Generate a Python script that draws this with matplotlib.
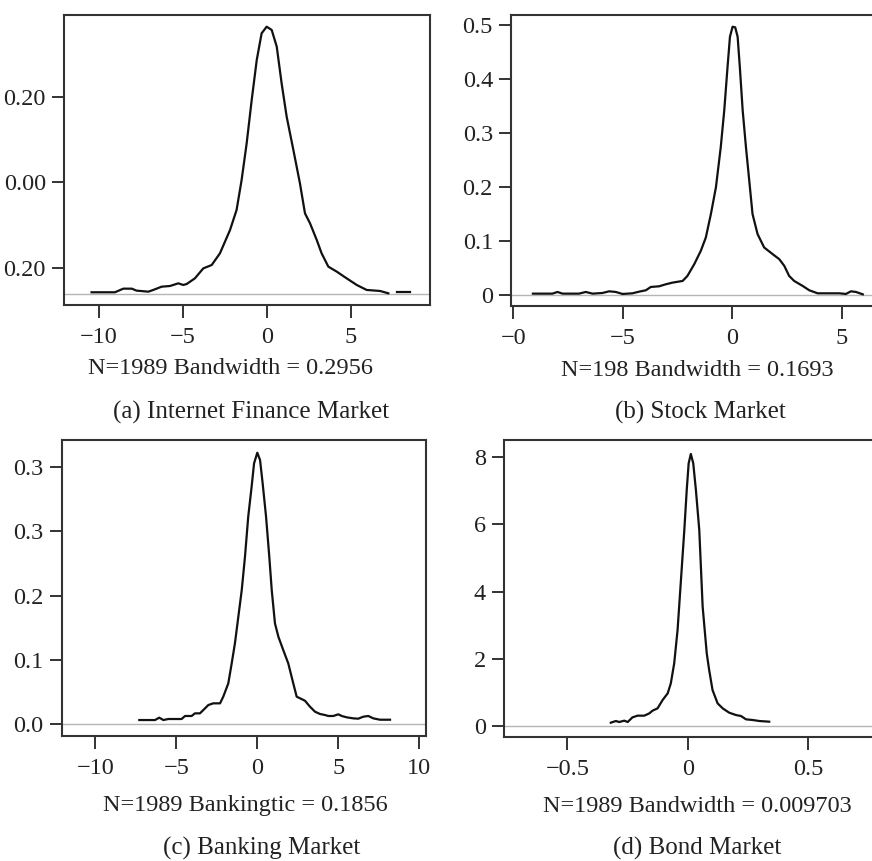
import matplotlib
matplotlib.use("Agg")
import matplotlib.pyplot as plt
import numpy as np

plt.rcParams['font.family'] = ['Liberation Serif', 'DejaVu Serif']

W, H = 872, 861

# (a) Internet Finance Market
a_x = [-10.44, -9.05, -8.55, -8.05, -7.76, -7.06, -6.77, -6.27, -5.77, -5.28,
       -4.98, -4.78, -4.29, -3.79, -3.29, -2.80, -2.20, -1.81, -1.51, -1.21,
       -0.91, -0.61, -0.32, -0.02, 0.28, 0.58, 0.87, 1.17, 1.57, 1.96,
       2.26, 2.56, 2.96, 3.25, 3.65, 4.15, 4.74, 5.34, 5.93, 6.73, 7.22]
a_y = [0.002, 0.002, 0.0062, 0.0062, 0.0039, 0.0027, 0.0047, 0.0085, 0.0093, 0.0124,
       0.0105, 0.0116, 0.0182, 0.0298, 0.0337, 0.0473, 0.0744, 0.0977, 0.1326, 0.1752,
       0.2256, 0.2721, 0.3031, 0.3108, 0.3070, 0.2876, 0.2450, 0.2062, 0.1674, 0.1287,
       0.0938, 0.0822, 0.0628, 0.0473, 0.0318, 0.0260, 0.0182, 0.0105, 0.0047, 0.0035, 0.0008]
a_tail_x = [7.72, 8.51]
a_tail_y = [0.002, 0.002]
a_yticks = [0.030, 0.130, 0.229]
a_ylabels = ['0.20', '0.00', '0.20']
a_xticks = [-10, -5, 0, 5]
a_xlabels = ['\u221210', '\u22125', '0', '5']

# (b) Stock Market
b_x = [-9.10, -8.21, -7.98, -7.75, -7.00, -6.69, -6.38, -5.93, -5.62, -5.32,
       -5.01, -4.56, -4.25, -3.95, -3.72, -3.34, -3.04, -2.73, -2.27, -2.05,
       -1.74, -1.44, -1.21, -0.98, -0.75, -0.53, -0.37, -0.22, -0.11, 0.01,
       0.13, 0.24, 0.34, 0.47, 0.62, 0.80, 0.92, 1.15, 1.45, 1.84,
       2.14, 2.37, 2.59, 2.82, 3.21, 3.51, 3.89, 4.35, 4.88, 5.18,
       5.41, 5.64, 5.95]
b_y = [0.0025, 0.0025, 0.0056, 0.0025, 0.0025, 0.0056, 0.0025, 0.0037, 0.0068, 0.0056,
       0.0019, 0.0031, 0.0062, 0.0087, 0.0149, 0.0161, 0.0198, 0.0229, 0.0260, 0.0353,
       0.0570, 0.0818, 0.1066, 0.1499, 0.1995, 0.2738, 0.3420, 0.4225, 0.4783, 0.4969,
       0.4957, 0.4783, 0.4225, 0.3420, 0.2738, 0.1995, 0.1499, 0.1128, 0.0880, 0.0756,
       0.0663, 0.0539, 0.0353, 0.0260, 0.0167, 0.0087, 0.0031, 0.0031, 0.0031, 0.0019,
       0.0068, 0.0056, 0.0012]
b_yticks = [0, 0.1, 0.2, 0.3, 0.4, 0.5]
b_ylabels = ['0', '0.1', '0.2', '0.3', '0.4', '0.5']
b_xticks = [-10, -5, 0, 5]
b_xlabels = ['\u22120', '\u22125', '0', '5']

# (c) Banking Market
c_x = [-7.28, -6.31, -6.05, -5.80, -5.49, -4.67, -4.46, -4.05, -3.85, -3.54,
       -3.33, -3.02, -2.72, -2.30, -2.10, -1.79, -1.58, -1.38, -1.17, -0.96,
       -0.76, -0.56, -0.35, -0.20, 0.00, 0.17, 0.33, 0.54, 0.74, 0.89,
       1.09, 1.30, 1.60, 1.91, 2.22, 2.43, 2.64, 2.94, 3.25, 3.56,
       3.87, 4.18, 4.38, 4.69, 5.00, 5.21, 5.52, 5.93, 6.23, 6.54,
       6.85, 7.16, 7.57, 8.19]
c_y = [0.0062, 0.0062, 0.0099, 0.0062, 0.0078, 0.0078, 0.0125, 0.0125, 0.0166, 0.0166,
       0.0218, 0.0296, 0.0322, 0.0322, 0.0426, 0.0633, 0.0945, 0.1257, 0.1672, 0.2087,
       0.2606, 0.3230, 0.3697, 0.4060, 0.4226, 0.4112, 0.3749, 0.3230, 0.2606, 0.2087,
       0.1568, 0.1360, 0.1153, 0.0945, 0.0633, 0.0426, 0.0400, 0.0363, 0.0270, 0.0192,
       0.0156, 0.0140, 0.0125, 0.0125, 0.0151, 0.0125, 0.0104, 0.0088, 0.0083, 0.0114,
       0.0125, 0.0088, 0.0067, 0.0067]
c_yticks = [0.0, 0.1, 0.2, 0.3, 0.4]
c_ylabels = ['0.0', '0.1', '0.2', '0.3', '0.3']
c_xticks = [-10, -5, 0, 5, 10]
c_xlabels = ['\u221210', '\u22125', '0', '5', '10']

# (d) Bond Market
d_x = [-0.320, -0.299, -0.285, -0.264, -0.250, -0.230, -0.209, -0.181, -0.160, -0.147,
       -0.126, -0.105, -0.084, -0.071, -0.057, -0.043, -0.029, -0.015, -0.005, 0.003,
       0.012, 0.022, 0.033, 0.047, 0.061, 0.078, 0.088, 0.102, 0.123, 0.144,
       0.171, 0.199, 0.220, 0.241, 0.268, 0.296, 0.337]
d_y = [0.099, 0.149, 0.119, 0.159, 0.119, 0.258, 0.308, 0.308, 0.377, 0.456,
       0.526, 0.774, 0.972, 1.270, 1.865, 2.857, 4.345, 5.833, 7.024, 7.817,
       8.095, 7.817, 7.024, 5.833, 3.552, 2.163, 1.667, 1.071, 0.675, 0.526,
       0.397, 0.327, 0.298, 0.198, 0.179, 0.149, 0.129]
d_yticks = [0, 2, 4, 6, 8]
d_ylabels = ['0', '2', '4', '6', '8']
d_xticks = [-0.5, 0, 0.5]
d_xlabels = ['\u22120.5', '0', '0.5']

fig = plt.figure(figsize=(W / 100, H / 100), dpi=100)


def px_axes(l, t, r, b):
    return fig.add_axes([l / W, 1 - b / H, (r - l) / W, (b - t) / H])


def style(ax, xlim, ylim, xt, xl, yt, yl):
    ax.set_xlim(*xlim)
    ax.set_ylim(*ylim)
    ax.axhline(0, color='#b5b5b5', lw=1.0, zorder=1)
    ax.set_xticks(xt)
    ax.set_xticklabels(xl)
    ax.set_yticks(yt)
    ax.set_yticklabels(yl)
    for s in ax.spines.values():
        s.set_color('#333333')
        s.set_linewidth(1.5)
    ax.tick_params(axis='both', direction='out', length=9, width=1.4,
                   color='#333333', labelsize=17.5, labelcolor='#222222')
    ax.tick_params(axis='x', pad=7)
    ax.tick_params(axis='y', pad=4)


def text(x, y, s, size=17.5):
    fig.text(x / W, 1 - y / H, s, ha='center', va='center', fontsize=size, color='#222222')


line_kw = dict(color='#111111', lw=1.6, zorder=3)

ax = px_axes(64, 15, 430, 305)
style(ax, (-12.08, 9.70), (-0.0128, 0.3244), a_xticks, a_xlabels, a_yticks, a_ylabels)
ax.plot(a_x, a_y, **line_kw)
ax.plot(a_tail_x, a_tail_y, **line_kw)
text(230, 369, 'N=1989 Bandwidth = 0.2956')
text(251, 412, '(a) Internet Finance Market', 18)

ax = px_axes(511, 15, 883.6, 306)
style(ax, (-10.1, 6.9), (-0.0204, 0.5186), b_xticks, b_xlabels, b_yticks, b_ylabels)
ax.plot(b_x, b_y, **line_kw)
text(697, 370, 'N=198 Bandwidth = 0.1693')
text(700, 412, '(b) Stock Market', 18)

ax = px_axes(61.7, 440, 426, 735.7)
style(ax, (-12.07, 10.41), (-0.0182, 0.4424), c_xticks, c_xlabels, c_yticks, c_ylabels)
ax.plot(c_x, c_y, **line_kw)
text(245, 806, 'N=1989 Bankingtic = 0.1856')
text(262, 848, '(c) Banking Market', 18)

ax = px_axes(504, 440, 880.8, 736.7)
style(ax, (-0.763, 0.80), (-0.318, 8.51), d_xticks, d_xlabels, d_yticks, d_ylabels)
ax.plot(d_x, d_y, **line_kw)
text(697, 806, 'N=1989 Bandwidth = 0.009703')
text(697, 848, '(d) Bond Market', 18)

fig.savefig('out.png', dpi=100)
